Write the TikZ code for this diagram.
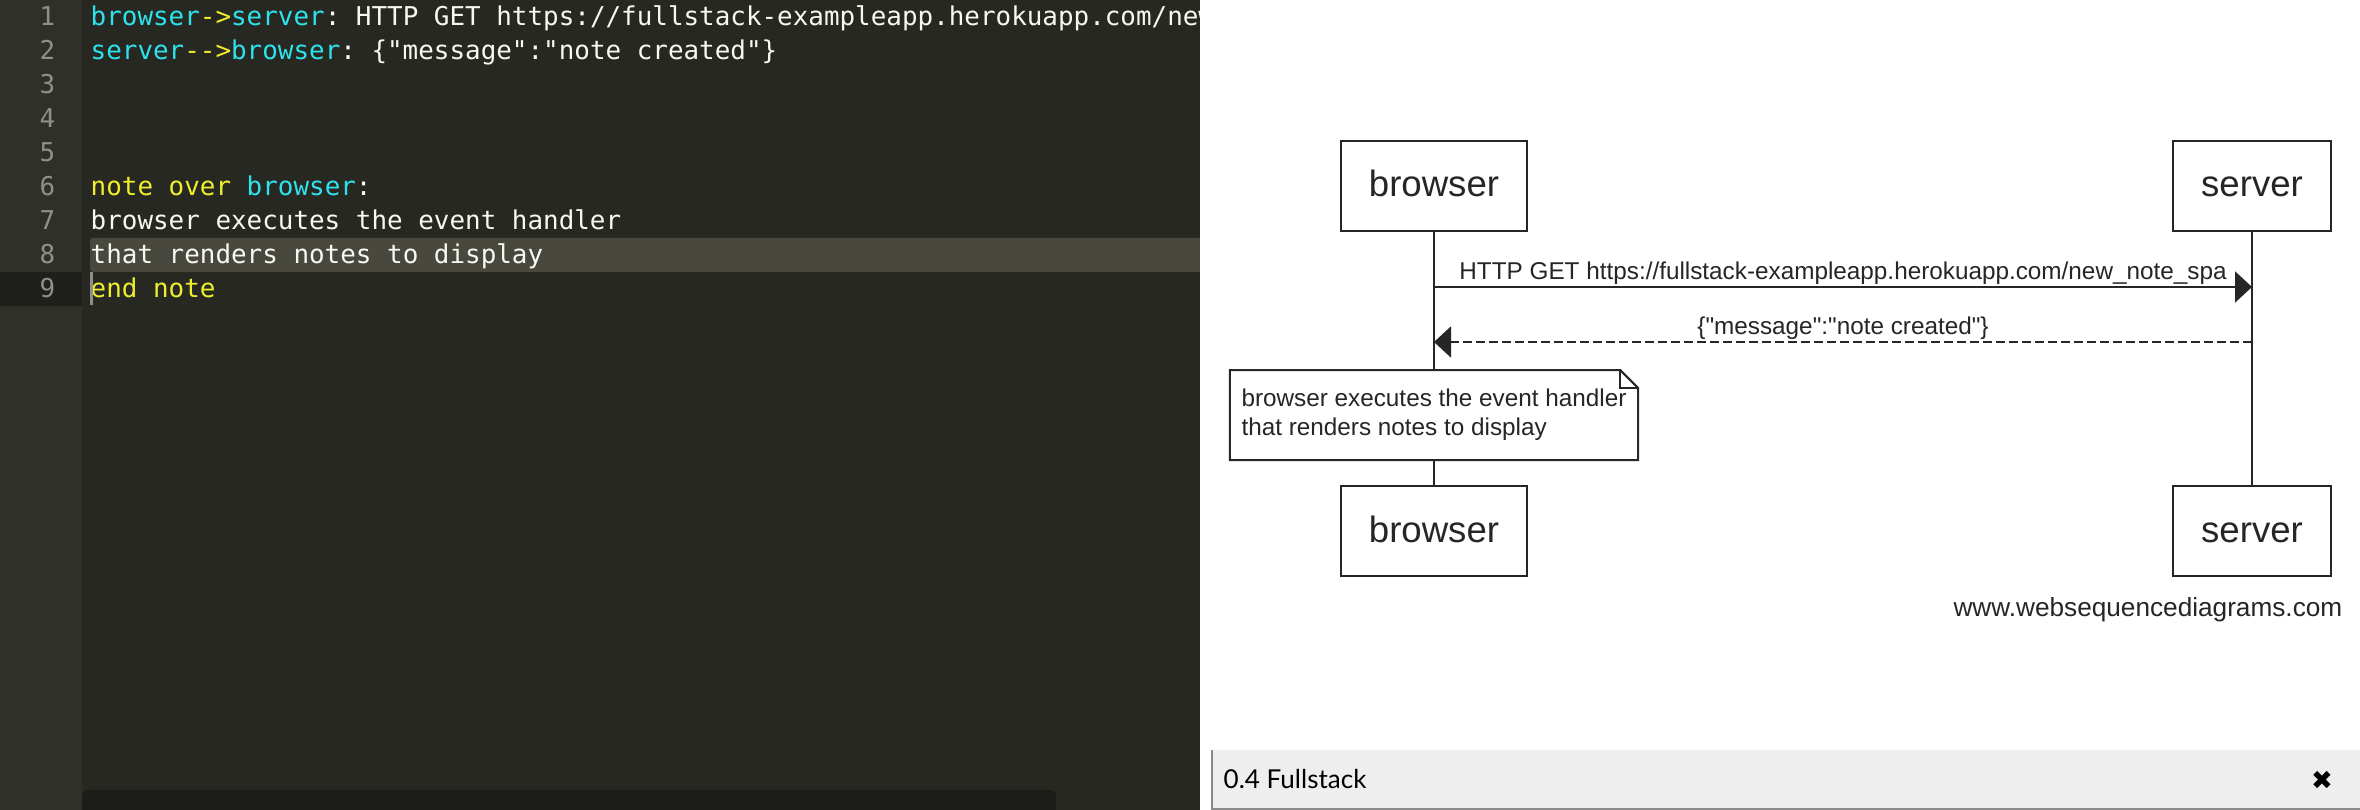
\documentclass[tikz,border=0pt]{standalone}
\usepackage{fontspec}
\setmainfont{Liberation Sans}
\newfontfamily\diagfont{Liberation Sans}
\newfontfamily\codefont{DejaVu Sans Mono}
\newfontfamily\barfont{Lato}
\newfontfamily\symbolfont{DejaVu Sans}
\usepackage{xcolor}
\usetikzlibrary{arrows.meta, positioning, calc}

\definecolor{editorbg}{HTML}{272822}
\definecolor{gutterbg}{HTML}{2F3129}
\definecolor{guttercur}{HTML}{1F201B}
\definecolor{linehl}{HTML}{49483E}
\definecolor{linenum}{HTML}{8F908A}
\definecolor{kwcyan}{HTML}{2DE2EA}
\definecolor{kwyellow}{HTML}{EEEE2C}
\definecolor{codetext}{HTML}{F8F8F2}
\definecolor{scrollbg}{HTML}{1C1D18}
\definecolor{barbg}{HTML}{EEEEEE}
\definecolor{barline}{HTML}{8A8A8A}
\definecolor{ink}{HTML}{262626}

\newcommand{\kwc}[1]{{\color{kwcyan}#1}}
\newcommand{\kwy}[1]{{\color{kwyellow}#1}}
\frenchspacing

\begin{document}
\begin{tikzpicture}[x=0.01cm, y=-0.01cm, node distance=1cm,
  codeline/.style={anchor=base west, inner sep=0pt, text=codetext, font=\codefont\fontsize{7.37}{8}\selectfont},
  lineno/.style={anchor=base east, inner sep=0pt, text=linenum, font=\codefont\fontsize{7.37}{8}\selectfont},
  actor/.style={draw=ink, line width=0.57pt, rectangle, minimum height=0.9cm, inner xsep=0.28cm, text height=0.22cm, text depth=0cm, text=ink, font=\diagfont\fontsize{10.41}{12}\selectfont},
  msg/.style={draw=ink, line width=0.57pt, -{Triangle[length=0.17cm, width=0.31cm]}},
  msglabel/.style={anchor=base, inner sep=0pt, text=ink, font=\diagfont\fontsize{6.91}{8.25}\selectfont}]
\useasboundingbox (0,0) rectangle (2360,810);

% editor pane
\begin{scope}
\clip (0,0) rectangle (1200,810);
\fill[editorbg] (0,0) rectangle (1200,810);
\fill[gutterbg] (0,0) rectangle (82,810);
\fill[guttercur] (0,272) rectangle (82,306);
\fill[linehl, rounded corners=0.03cm] (90,238) rectangle (1210,272);
\fill[scrollbg, rounded corners=0.06cm] (82,790) rectangle (1056,816);
\foreach \n in {1,...,9}
  \node[lineno] (num\n) at (56, {26+34*(\n-1)}) {\n};
\node[codeline] (code1) at (90,26) {\kwc{browser}\kwy{->}\kwc{server}: HTTP GET https://fullstack-exampleapp.herokuapp.com/new};
\node[codeline] (code2) at (90,60) {\kwc{server}\kwy{-->}\kwc{browser}: \{"message":"note created"\}};
\node[codeline] (code6) at (90,196) {\kwy{note over} \kwc{browser}:};
\node[codeline] (code7) at (90,230) {browser executes the event handler};
\node[codeline] (code8) at (90,264) {that renders notes to display};
\node[codeline] (code9) at (90,298) {\kwy{end note}};
\draw[linenum, line width=0.03cm] (91,272) -- (91,305);
\end{scope}

% diagram pane
\fill[white] (1200,0) rectangle (2360,810);
\node[actor] (browsertop) at (1434,186) {browser};
\node[actor] (servertop) at (2252,186) {server};
\node[actor, below=2.53cm of browsertop] (browserbot) {browser};
\node[actor, below=2.53cm of servertop] (serverbot) {server};

\node[below=1.38cm of browsertop, minimum width=4.06cm, minimum height=0.9cm, outer sep=0pt, align=left, text=ink, font=\diagfont\fontsize{6.91}{8.25}\selectfont] (note) {browser executes the event handler\\that renders notes to display};
\draw[ink, line width=0.57pt] (note.north west) -- ([xshift=-0.18cm]note.north east) -- ([yshift=-0.18cm]note.north east) -- (note.south east) -- (note.south west) -- cycle;
\draw[ink, line width=0.57pt] ([xshift=-0.18cm]note.north east) |- ([yshift=-0.18cm]note.north east);

\draw[ink, line width=0.57pt] (browsertop) -- (note);
\draw[ink, line width=0.57pt] (note) -- (browserbot);
\draw[ink, line width=0.57pt] (servertop) -- (serverbot);

\coordinate (getstart) at (browsertop.south |- 0,287);
\coordinate (getend) at (servertop.south |- 0,287);
\draw[msg] (getstart) -- node[msglabel, yshift=0.07cm] (getlabel) {HTTP GET https://fullstack-exampleapp.herokuapp.com/new\_note\_spa} (getend);

\coordinate (respstart) at (servertop.south |- 0,342);
\coordinate (respend) at (browsertop.south |- 0,342);
\draw[msg, dash pattern=on 0.09cm off 0.04cm] (respstart) -- node[msglabel, yshift=0.07cm] (resplabel) {\{"message":"note created"\}} (respend);

\node[anchor=base east, inner sep=0pt, text=ink, font=\diagfont\fontsize{7.45}{9}\selectfont] (wsdlink) at (2343,617) {www.websequencediagrams.com};

% tab bar
\fill[barbg] (1211,750) rectangle (2360,810);
\draw[barline, line width=0.02cm] (1212,750) -- (1212,809) -- (2360,809);
\node[anchor=base west, inner sep=0pt, text=black, font=\barfont\fontsize{7.4}{9}\selectfont] (tabtitle) at (1223,789) {0.4 Fullstack};
\node[inner sep=0pt, text=black, font=\symbolfont\fontsize{7.4}{9}\selectfont] (closebtn) at (2322,780) {✖};
\end{tikzpicture}
\end{document}
